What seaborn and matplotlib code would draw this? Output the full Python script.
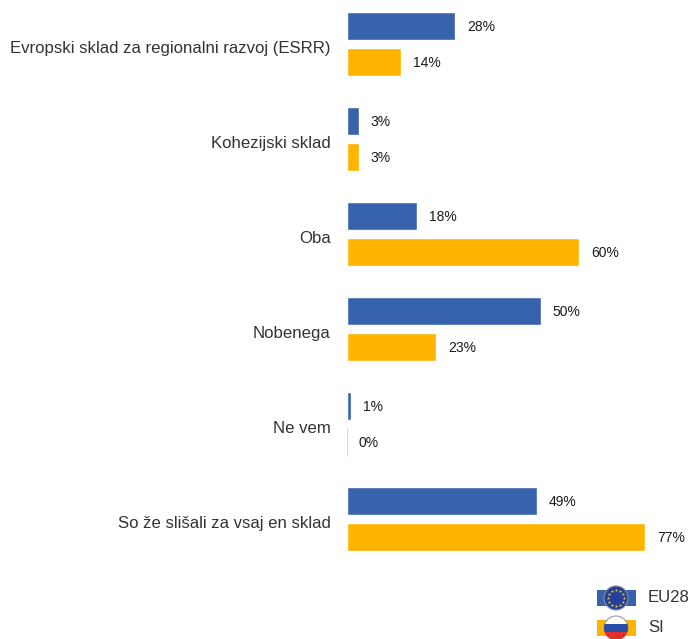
import matplotlib
matplotlib.use("Agg")
import matplotlib.pyplot as plt
import matplotlib.transforms as mtransforms
import numpy as np
import pandas as pd
import seaborn as sns
from matplotlib.patches import Rectangle, Circle

categories = [
    "Evropski sklad za regionalni razvoj (ESRR)",
    "Kohezijski sklad",
    "Oba",
    "Nobenega",
    "Ne vem",
    "So že slišali za vsaj en sklad",
]
eu28 = [28, 3, 18, 50, 1, 49]
si = [14, 3, 60, 23, 0, 77]
series_names = ["EU28", "SI"]
colors = ["#3763ac", "#ffb400"]

W, H = 690, 639

df = pd.DataFrame({"cat": categories, "EU28": eu28, "SI": si})
long = df.melt(id_vars="cat", var_name="serie", value_name="val")

sns.set_theme(style="white")
plt.rcParams["font.family"] = ["Liberation Sans", "DejaVu Sans"]
label_size = 12.1
value_size = 10

fig = plt.figure(figsize=(W / 100, H / 100), dpi=100)
ax = fig.add_axes([347 / W, 1 - 568 / H, 343 / W, 568 / H])
sns.barplot(data=long, y="cat", x="val", hue="serie", palette=colors,
            order=categories, hue_order=series_names, width=0.758, gap=0.222,
            saturation=1, legend=False, ax=ax)

ax.set_xlim(0, 343 / 3.87)
ax.set_ylim(524 / 95, -44 / 95)
ax.set_xlabel("")
ax.set_ylabel("")
ax.set_xticks([])
sns.despine(ax=ax, left=True, bottom=True, top=True, right=True)
ax.tick_params(axis="y", length=0, pad=11.7, labelsize=label_size, labelcolor="#333333")

# nalepke kategorij so v izvirniku malo nižje od sredine skupine
shift = mtransforms.ScaledTranslation(0, -3 / 100, fig.dpi_scale_trans)
for lab in ax.get_yticklabels():
    lab.set_transform(lab.get_transform() + shift)

# oznake vrednosti
for cont, vals in zip(ax.containers, [eu28, si]):
    texts = ax.bar_label(cont, labels=[f"{v}%" for v in vals], padding=8.6,
                         fontsize=value_size, color="#1a1a1a")
    for t in texts:
        t.xyann = (8.6, -0.8)
    # vrednost 0 % - tanka črta
    for bar in cont:
        if bar.get_width() == 0:
            bar.set_edgecolor("#ffd98a")
            bar.set_linewidth(1)

# legenda
leg = fig.add_axes([0, 0, 1, 1])
leg.set_xlim(0, W)
leg.set_ylim(H, 0)
leg.axis("off")
for y, name, c in zip([598, 628], series_names, colors):
    leg.add_patch(Rectangle((597, y - 8), 39, 16, color=c, lw=0))
    leg.text(648, y, name, fontsize=label_size, va="center", color="#333333")

eu_disc = Circle((616, 598), 12, facecolor="#24409c", edgecolor="#8a8f9c", lw=0.8)
leg.add_patch(eu_disc)
angles = np.deg2rad(np.arange(0, 360, 30))
leg.scatter(616 + 8 * np.cos(angles), 598 + 8 * np.sin(angles), marker="*", s=6,
            color="#f2d21f", linewidths=0, zorder=4)

si_disc = Circle((616, 628), 12, facecolor="white", edgecolor="#9a9a9a", lw=0.8, zorder=3)
leg.add_patch(si_disc)
for top, h, c in [(624, 8, "#2a4fa8"), (632, 8, "#e0302a")]:
    stripe = Rectangle((604, top), 24, h, color=c, lw=0, zorder=4)
    leg.add_patch(stripe)
    stripe.set_clip_path(si_disc)

fig.savefig("out.png", dpi=100)
